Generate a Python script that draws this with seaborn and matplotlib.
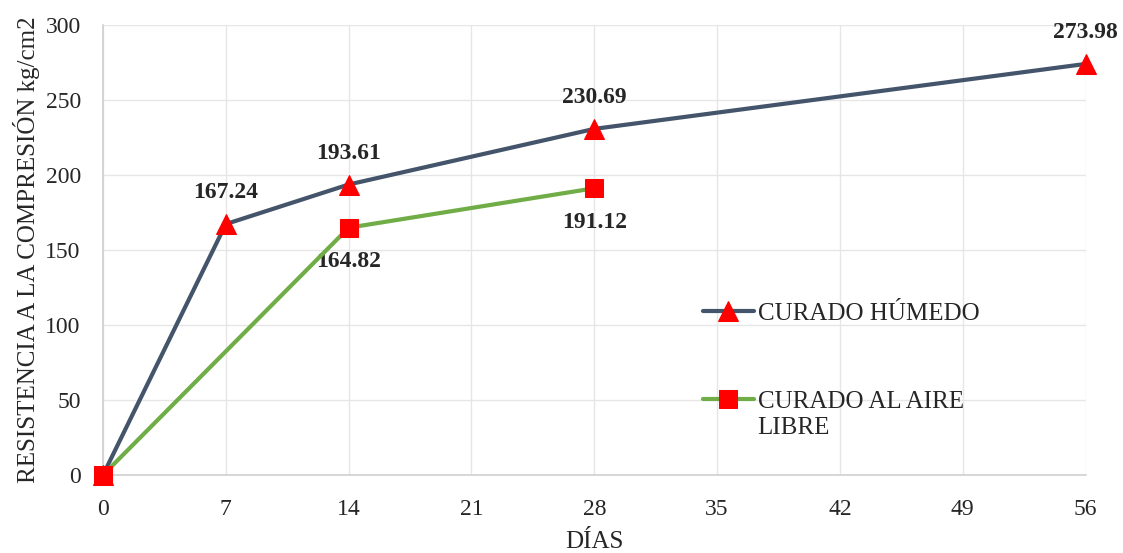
import numpy as np
import matplotlib
matplotlib.use("Agg")
import matplotlib.pyplot as plt
import pandas as pd
import seaborn as sns

# data
dias_humedo = [0, 7, 14, 28, 56]
res_humedo = [0, 167.24, 193.61, 230.69, 273.98]
dias_aire = [0, 14, 28]
res_aire = [0, 164.82, 191.12]
xticks = [0, 7, 14, 21, 28, 35, 42, 49, 56]

sns.set_style("white")
plt.rcParams["font.family"] = ["Liberation Serif", "DejaVu Serif"]

df_h = pd.DataFrame({"dias": dias_humedo, "res": res_humedo})
df_a = pd.DataFrame({"dias": dias_aire, "res": res_aire})

fig = plt.figure(figsize=(11.23, 5.53), dpi=100)
ax = fig.add_axes([0.0917, 0.141, 0.875, 0.814])

sns.lineplot(data=df_h, x="dias", y="res", ax=ax, color="#44546A", linewidth=3,
             marker="^", markersize=15, markerfacecolor="red", markeredgecolor="red",
             label="CURADO HÚMEDO", zorder=3, clip_on=False)
sns.lineplot(data=df_a, x="dias", y="res", ax=ax, color="#70AD47", linewidth=3,
             marker="s", markersize=13, markerfacecolor="red", markeredgecolor="red",
             label="CURADO AL AIRE", zorder=4, clip_on=False)

# value labels
for x, y in zip(dias_humedo[1:], res_humedo[1:]):
    ax.annotate(f"{y:.2f}", (x, y), xytext=(0, 15), textcoords="offset points",
                ha="center", va="bottom", fontsize=17, fontweight="bold")
for x, y in zip(dias_aire[1:], res_aire[1:]):
    ax.annotate(f"{y:.2f}", (x, y), xytext=(0, -17), textcoords="offset points",
                ha="center", va="top", fontsize=17, fontweight="bold")

ax.set_xlim(0, 56)
ax.set_ylim(0, 300)
ax.set_xticks(xticks)
ax.set_yticks(np.arange(0, 301, 50))
ax.tick_params(axis="x", labelsize=17, length=0, pad=17)
ax.tick_params(axis="y", labelsize=17, length=0, pad=16)
ax.grid(True, color="#E6E6E6", linewidth=1)
ax.set_axisbelow(True)
for s in ["top", "right"]:
    ax.spines[s].set_visible(False)
for s in ["left", "bottom"]:
    ax.spines[s].set_color("#D0D0D0")
    ax.spines[s].set_linewidth(1.2)

ax.set_xlabel("DÍAS", fontsize=18, labelpad=8)
ax.set_ylabel("RESISTENCIA A LA COMPRESIÓN kg/cm2", fontsize=18, labelpad=4)

leg = ax.legend(loc="upper left", bbox_to_anchor=(0.6, 0.405), frameon=False,
                fontsize=18, labelspacing=2.6, handlelength=2.05, handletextpad=0.15,
                borderaxespad=0)

# second line of the second legend label, placed under its first line
fig.canvas.draw()
bb = leg.get_texts()[1].get_window_extent()
fig.text(bb.x0, bb.y0 - 4, "LIBRE", fontsize=18, ha="left", va="top",
         transform=None)

fig.savefig("out.png", dpi=100)
